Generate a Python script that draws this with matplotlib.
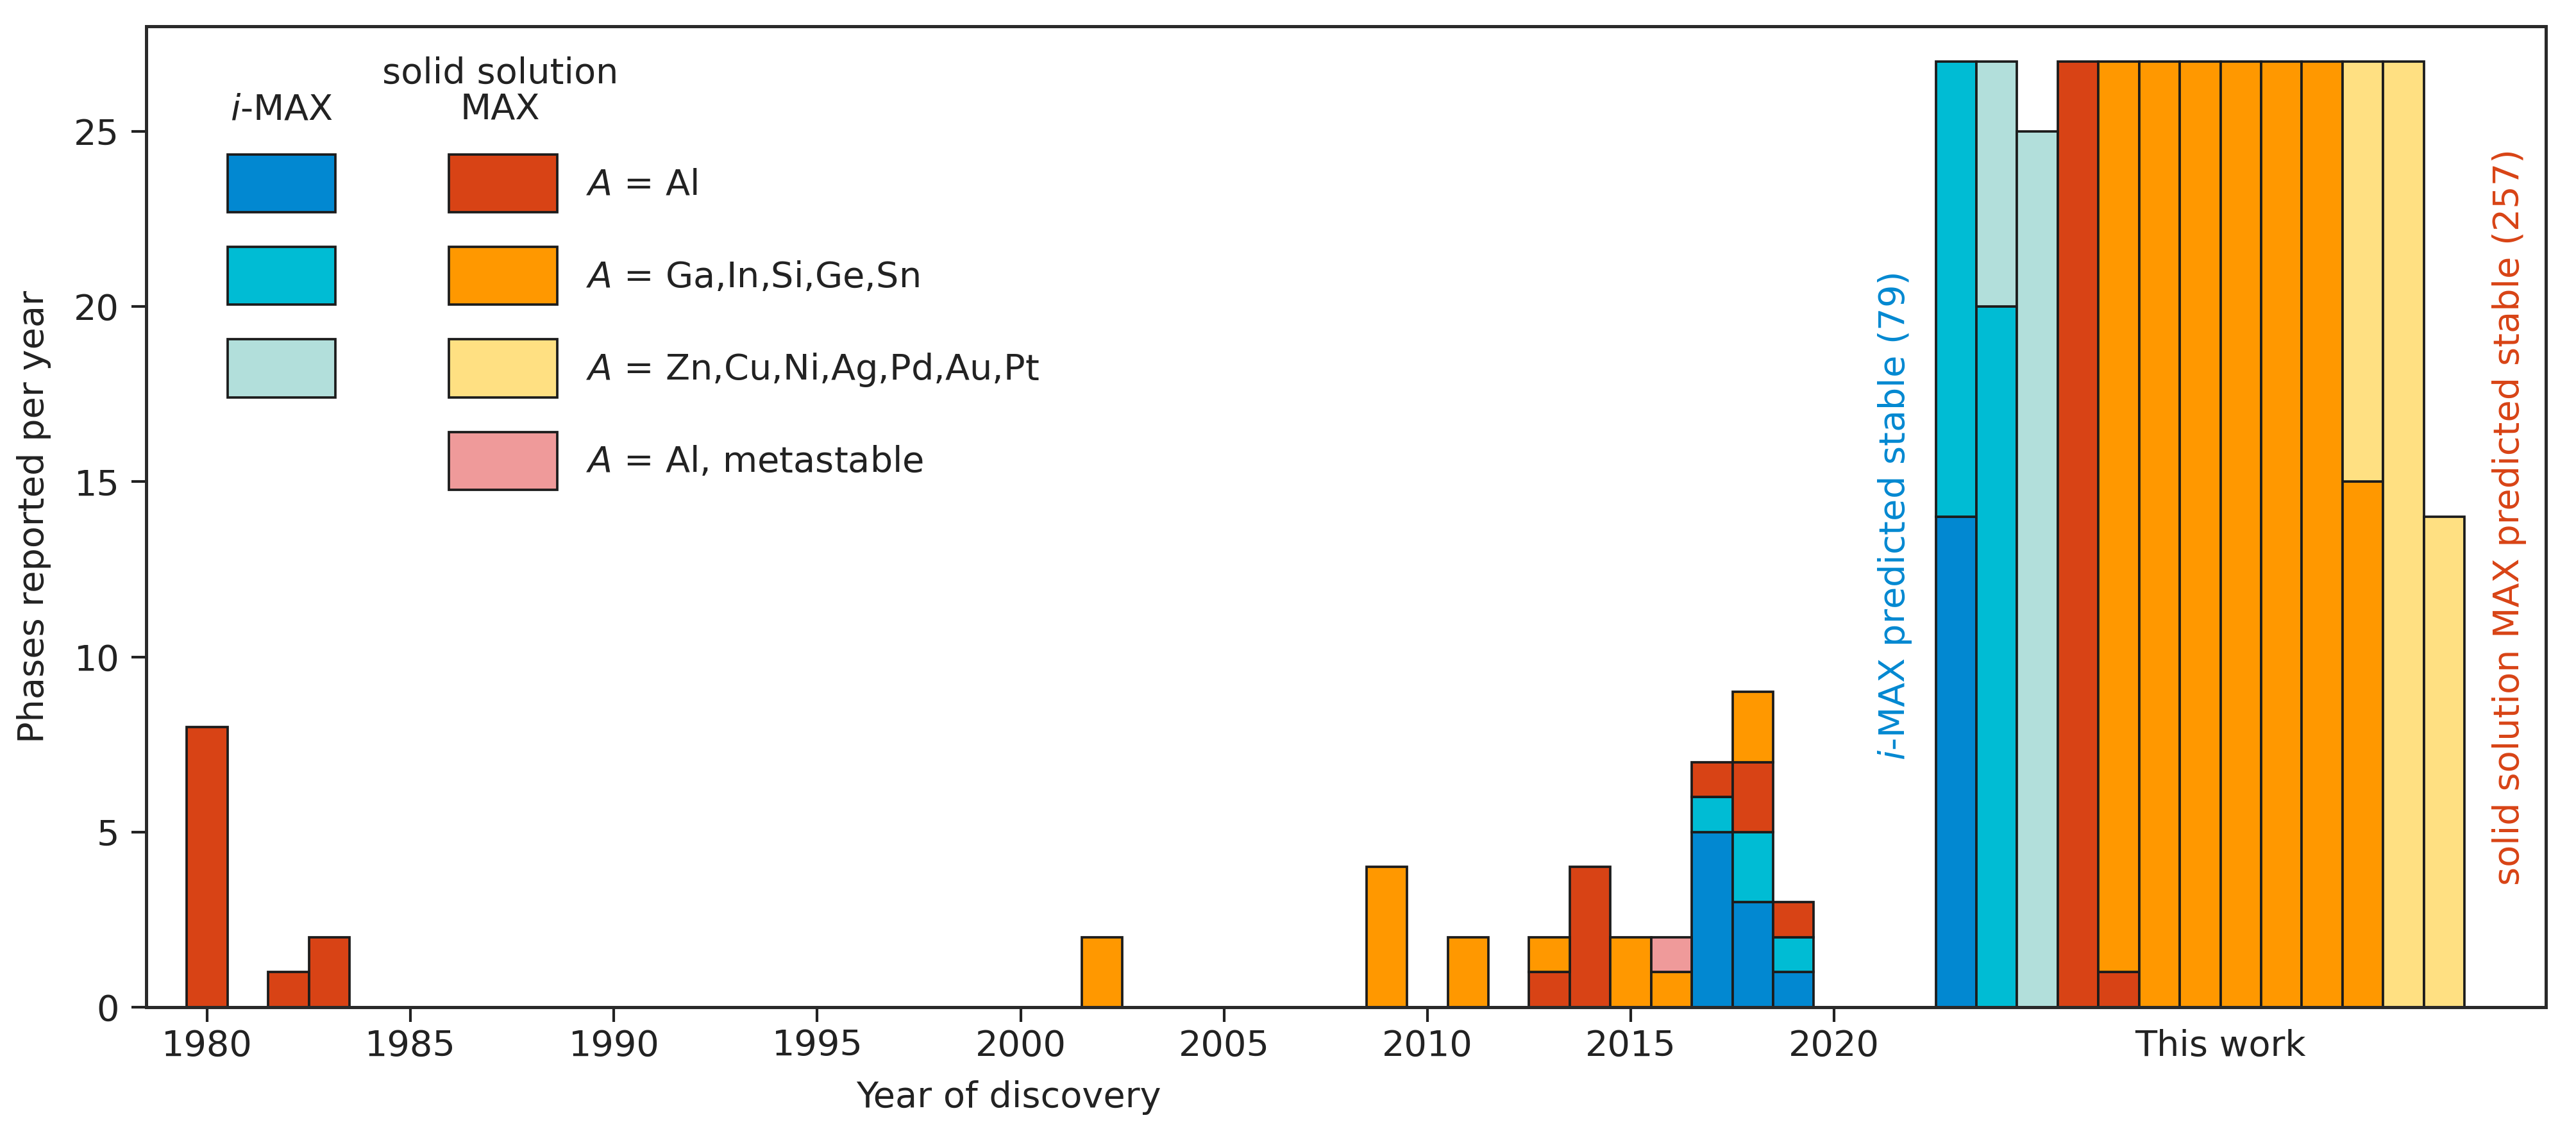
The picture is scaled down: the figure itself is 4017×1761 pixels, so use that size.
import numpy as np
import matplotlib
matplotlib.use("Agg")
import matplotlib.pyplot as plt
from matplotlib.patches import Patch

# ---------------- data ----------------
reported_years = [1980, 1982, 1983, 2002, 2009, 2011, 2013, 2014, 2015, 2016, 2017, 2018, 2019]
rep_imax_al   = [0, 0, 0, 0, 0, 0, 0, 0, 0, 0, 5, 3, 1]
rep_imax_ga   = [0, 0, 0, 0, 0, 0, 0, 0, 0, 0, 1, 2, 1]
rep_imax_zn   = [0, 0, 0, 0, 0, 0, 0, 0, 0, 0, 0, 0, 0]
rep_ss_al     = [8, 1, 2, 0, 0, 0, 1, 4, 0, 0, 1, 2, 1]
rep_ss_ga     = [0, 0, 0, 2, 4, 2, 1, 0, 2, 1, 0, 2, 0]
rep_ss_zn     = [0, 0, 0, 0, 0, 0, 0, 0, 0, 0, 0, 0, 0]
rep_ss_meta   = [0, 0, 0, 0, 0, 0, 0, 0, 0, 1, 0, 0, 0]

# "This work" predicted phases, 13 bar slots
pred_imax_al  = [14, 0, 0, 0, 0, 0, 0, 0, 0, 0, 0, 0, 0]
pred_imax_ga  = [13, 20, 0, 0, 0, 0, 0, 0, 0, 0, 0, 0, 0]
pred_imax_zn  = [0, 7, 25, 0, 0, 0, 0, 0, 0, 0, 0, 0, 0]
pred_ss_al    = [0, 0, 0, 27, 1, 0, 0, 0, 0, 0, 0, 0, 0]
pred_ss_ga    = [0, 0, 0, 0, 26, 27, 27, 27, 27, 27, 15, 0, 0]
pred_ss_zn    = [0, 0, 0, 0, 0, 0, 0, 0, 0, 0, 12, 27, 14]
pred_ss_meta  = [0, 0, 0, 0, 0, 0, 0, 0, 0, 0, 0, 0, 0]

year_ticks = [1980, 1985, 1990, 1995, 2000, 2005, 2010, 2015, 2020]
y_ticks = [0, 5, 10, 15, 20, 25]

series_labels = [r"$A$ = Al", r"$A$ = Ga,In,Si,Ge,Sn", r"$A$ = Zn,Cu,Ni,Ag,Pd,Au,Pt", r"$A$ = Al, metastable"]

# ---------------- style ----------------
C_IMAX_AL = "#0288D1"
C_IMAX_GA = "#00BCD4"
C_IMAX_ZN = "#B2DFDB"
C_SS_AL = "#D84315"
C_SS_GA = "#FF9800"
C_SS_ZN = "#FFE082"
C_SS_META = "#EF9A9A"
EDGE = "#1c1c1c"
LW = 0.9
TXT = "#222222"
FS = 13.4

plt.rcParams["font.family"] = ["DejaVu Sans"]
plt.rcParams["mathtext.fontset"] = "dejavusans"

fig = plt.figure(figsize=(4017 / 300, 1761 / 300), dpi=300)
ax = fig.add_axes([0.05676, 0.10789, 0.93154, 0.86883])

work_start = 2023
work_x = work_start + np.arange(len(pred_ss_ga))

x_all = np.concatenate([np.array(reported_years, float), work_x.astype(float)])
stack = [
    (np.array(rep_imax_al + pred_imax_al, float), C_IMAX_AL),
    (np.array(rep_imax_ga + pred_imax_ga, float), C_IMAX_GA),
    (np.array(rep_imax_zn + pred_imax_zn, float), C_IMAX_ZN),
    (np.array(rep_ss_al + pred_ss_al, float), C_SS_AL),
    (np.array(rep_ss_ga + pred_ss_ga, float), C_SS_GA),
    (np.array(rep_ss_zn + pred_ss_zn, float), C_SS_ZN),
    (np.array(rep_ss_meta + pred_ss_meta, float), C_SS_META),
]

bottom = np.zeros_like(x_all)
for vals, col in stack:
    m = vals > 0
    if m.any():
        ax.bar(x_all[m], vals[m], width=1.0, bottom=bottom[m], color=col,
               edgecolor=EDGE, linewidth=LW, zorder=2)
    bottom = bottom + vals

ax.set_xlim(1978.5, 2037.5)
ax.set_ylim(0, 28)
ax.set_xticks(year_ticks)
ax.set_xticklabels([str(y) for y in year_ticks])
ax.set_yticks(y_ticks)
ax.set_xticks([work_x.mean() + 0.5], minor=True)
ax.set_xticklabels(["This work"], minor=True)

ax.tick_params(axis="both", which="major", labelsize=FS, colors=TXT, length=5.5, width=1.0,
               direction="out")
ax.tick_params(axis="x", which="major", pad=2.5)
ax.tick_params(axis="y", which="major", pad=4.5)
ax.tick_params(axis="x", which="minor", labelsize=FS, colors=TXT, length=0, pad=8.0)

for s in ax.spines.values():
    s.set_color("#2a2a2a")
    s.set_linewidth(1.2)

ax.set_ylabel("Phases reported per year", fontsize=FS, color=TXT, labelpad=8.5)
ax.set_xlabel("Year of discovery", fontsize=FS, color=TXT, labelpad=6.5)
ax.xaxis.label.set_x(0.3594)

# rotated annotations
ax.text(2021.5, 14, r"$i$-MAX predicted stable (79)", rotation=90, ha="center", va="center",
        fontsize=FS, color=C_IMAX_AL)
ax.text(2036.6, 14, "solid solution MAX predicted stable (257)", rotation=90, ha="center",
        va="center", fontsize=FS, color=C_SS_AL)

# legend
def P(c):
    return Patch(facecolor=c, edgecolor=EDGE, linewidth=LW)

blank = Patch(facecolor="none", edgecolor="none")
handles = [P(C_IMAX_AL), P(C_IMAX_GA), P(C_IMAX_ZN), blank,
           P(C_SS_AL), P(C_SS_GA), P(C_SS_ZN), P(C_SS_META)]
labels = ["", "", "", ""] + series_labels
leg = ax.legend(handles, labels, ncol=2, loc="upper left", bbox_to_anchor=(0.0339, 0.8693),
                frameon=False, fontsize=FS, borderpad=0, borderaxespad=0,
                handlelength=3.01, handleheight=2.105, labelspacing=0.97,
                handletextpad=0.81, columnspacing=2.37)
for t in leg.get_texts():
    t.set_color(TXT)

ax.text(0.0564, 0.9144, r"$i$-MAX", transform=ax.transAxes, ha="center", va="center",
        fontsize=FS, color=TXT)
ax.text(0.1475, 0.9337, "solid solution\nMAX", transform=ax.transAxes, ha="center",
        va="center", fontsize=FS, color=TXT, linespacing=1.05, multialignment="center")

fig.savefig("out.png", dpi=300)
